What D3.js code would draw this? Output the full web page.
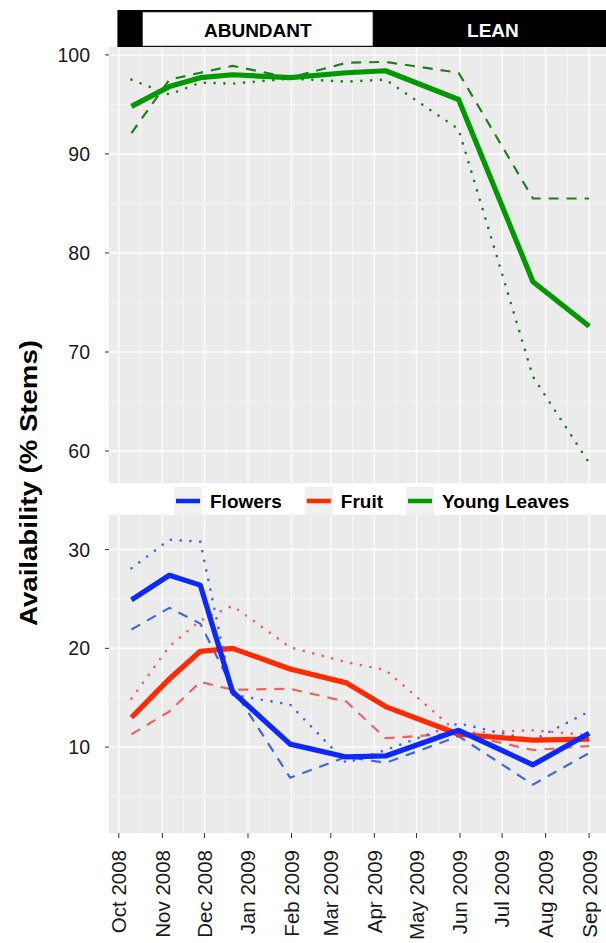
<!DOCTYPE html>
<html>
<head>
<meta charset="utf-8">
<script src="https://cdn.jsdelivr.net/npm/d3@7/dist/d3.min.js"></script>
<style>
  html, body { margin: 0; padding: 0; background: #ffffff; }
  svg { display: block; font-family: "Liberation Sans", Arial, Helvetica, sans-serif; }
</style>
</head>
<body>
<svg id="chart" width="606" height="943"></svg>
<script>
// ---------------- DATA ----------------
const sampleDates = ["2008-10-10","2008-11-06","2008-11-28","2008-12-21","2009-01-31",
                     "2009-03-12","2009-04-09","2009-05-31","2009-07-23","2009-09-01"];

const youngLeavesMean   = [94.8, 96.8, 97.7, 98.0, 97.7, 98.2, 98.4, 95.5, 77.1, 72.6];
const youngLeavesDashed = [92.1, 97.5, 98.2, 98.9, 97.7, 99.2, 99.3, 98.2, 85.5, 85.5];
const youngLeavesDotted = [97.5, 96.0, 97.2, 97.1, 97.6, 97.3, 97.5, 92.5, 67.5, 58.8];

const flowersMean   = [24.9, 27.4, 26.4, 15.6, 10.3, 9.0, 9.1, 11.7, 8.2, 11.4];
const flowersDashed = [21.9, 24.1, 22.5, 16.0, 6.9, 9.0, 8.4, 11.1, 6.2, 9.4];
const flowersDotted = [28.1, 31.0, 30.8, 15.3, 14.3, 8.4, 9.7, 12.4, 10.7, 13.6];

const fruitMean   = [13.0, 16.9, 19.7, 20.0, 17.9, 16.5, 14.1, 11.3, 10.7, 10.8];
const fruitDashed = [11.3, 13.6, 16.6, 15.8, 15.9, 14.6, 10.9, 11.4, 9.7, 10.1];
const fruitDotted = [14.9, 20.2, 22.8, 24.3, 20.1, 18.6, 17.8, 11.4, 11.7, 11.2];

const monthTicks = ["2008-10-01","2008-11-01","2008-12-01","2009-01-01","2009-02-01","2009-03-01",
                    "2009-04-01","2009-05-01","2009-06-01","2009-07-01","2009-08-01","2009-09-01"];
const monthLabels = ["Oct 2008","Nov 2008","Dec 2008","Jan 2009","Feb 2009","Mar 2009",
                     "Apr 2009","May 2009","Jun 2009","Jul 2009","Aug 2009","Sep 2009"];

const topTicks = [60, 70, 80, 90, 100];
const topMinor = [65, 75, 85, 95];
const bottomTicks = [10, 20, 30];
const bottomMinor = [5, 15, 25];

const seasonNames  = ["ABUNDANT", "LEAN"];
const seasonStarts = ["2008-10-18", "2009-03-31"];
const seasonEnds   = ["2009-03-31", "2009-09-18"];
const stripStart   = "2008-09-30";

const legendNames  = ["Flowers", "Fruit", "Young Leaves"];
const legendColors = ["#0a28ff", "#ff2a00", "#009a00"];

const yTitle = "Availability (% Stems)";

// ---------------- SETUP ----------------
const parse = s => { const [y,m,d] = s.split("-").map(Number); return new Date(Date.UTC(y, m-1, d)); };
const dates = sampleDates.map(parse);

const svg = d3.select("#chart");
const W = 606;

const x = d3.scaleUtc()
  .domain([parse("2008-09-24"), parse("2009-09-18")])
  .range([109, 613]);

const yTop = d3.scaleLinear().domain([56.77, 100.8]).range([483, 47]);
const yBot = d3.scaleLinear().domain([1.3, 33.5]).range([833, 515]);

const panelBg = "#ebebeb";
const tickColor = "#333333";
const textColor = "#1a1a1a";

const majorDates = monthTicks.map(parse);
// minor grid halfway between majors (and beyond edges)
const minorDates = [];
for (let i = 0; i < majorDates.length - 1; i++) {
  minorDates.push(new Date((majorDates[i].getTime() + majorDates[i+1].getTime()) / 2));
}
{
  const step = majorDates[1] - majorDates[0];
  minorDates.push(new Date(majorDates[0].getTime() - step/2));
  minorDates.push(new Date(majorDates[majorDates.length-1].getTime() + step/2));
}

function drawPanel(y, majors, minors) {
  const [y0, y1] = [y.range()[1], y.range()[0]];
  const [x0, x1] = x.range();
  const g = svg.append("g");
  g.append("rect").attr("x", x0).attr("y", y0).attr("width", x1 - x0).attr("height", y1 - y0)
    .attr("fill", panelBg);
  const clipId = "clip" + Math.round(y0);
  svg.append("clipPath").attr("id", clipId).append("rect")
    .attr("x", x0).attr("y", y0).attr("width", x1 - x0).attr("height", y1 - y0);
  const gg = g.append("g").attr("clip-path", `url(#${clipId})`);
  gg.selectAll(".hmin").data(minors).join("line")
    .attr("x1", x0).attr("x2", x1).attr("y1", d => y(d)).attr("y2", d => y(d))
    .attr("stroke", "#fafafa").attr("stroke-width", 0.7);
  gg.selectAll(".vmin").data(minorDates).join("line")
    .attr("x1", d => x(d)).attr("x2", d => x(d)).attr("y1", y0).attr("y2", y1)
    .attr("stroke", "#fafafa").attr("stroke-width", 0.7);
  gg.selectAll(".hmaj").data(majors).join("line")
    .attr("x1", x0).attr("x2", x1).attr("y1", d => y(d)).attr("y2", d => y(d))
    .attr("stroke", "#ffffff").attr("stroke-width", 1.4);
  gg.selectAll(".vmaj").data(majorDates).join("line")
    .attr("x1", d => x(d)).attr("x2", d => x(d)).attr("y1", y0).attr("y2", y1)
    .attr("stroke", "#ffffff").attr("stroke-width", 1.4);
  // y axis ticks + labels
  g.selectAll(".yt").data(majors).join("line")
    .attr("x1", x0 - 4).attr("x2", x0).attr("y1", d => y(d)).attr("y2", d => y(d))
    .attr("stroke", tickColor).attr("stroke-width", 1);
  g.selectAll(".yl").data(majors).join("text")
    .attr("x", x0 - 19).attr("y", d => y(d)).attr("dy", "0.36em")
    .attr("text-anchor", "end").attr("font-size", 19.5).attr("fill", textColor)
    .text(d => d);
  return gg;
}

const gTop = drawPanel(yTop, topTicks, topMinor);
const gBot = drawPanel(yBot, bottomTicks, bottomMinor);

// ---------------- SEASON STRIP ----------------
svg.append("rect")
  .attr("x", x(parse(stripStart))).attr("y", 10)
  .attr("width", W - x(parse(stripStart)) + 10).attr("height", 37)
  .attr("fill", "#000000");
seasonNames.forEach((name, i) => {
  const xs = x(parse(seasonStarts[i])), xe = x(parse(seasonEnds[i]));
  if (i === 0) {
    svg.append("rect").attr("x", xs).attr("y", 12).attr("width", xe - xs).attr("height", 34)
      .attr("fill", "#ffffff").attr("stroke", "#444").attr("stroke-width", 0.6);
  }
  svg.append("text")
    .attr("x", (xs + xe) / 2).attr("y", 37)
    .attr("text-anchor", "middle").attr("font-size", 19).attr("font-weight", "bold")
    .attr("fill", i === 0 ? "#000000" : "#ffffff")
    .text(name);
});

// ---------------- LINES ----------------
const mk = (y) => d3.line().x((d, i) => x(dates[i])).y(d => y(d));

function addLine(g, y, values, color, style) {
  const p = g.append("path").datum(values)
    .attr("d", mk(y))
    .attr("fill", "none")
    .attr("stroke", color)
    .attr("stroke-linejoin", "round");
  if (style === "solid") {
    p.attr("stroke-width", 5.2).attr("stroke-linecap", "butt");
  } else if (style === "dashed") {
    p.attr("stroke-width", 2.2).attr("stroke-dasharray", "10,8").attr("stroke-linecap", "butt");
  } else {
    p.attr("stroke-width", 2.7).attr("stroke-dasharray", "0,9.8").attr("stroke-linecap", "round");
  }
}

const greenThin = "#1f7f1f";
const blueThin = "#4266e6";
const redThin = "#ef6262";

addLine(gTop, yTop, youngLeavesDashed, greenThin, "dashed");
addLine(gTop, yTop, youngLeavesDotted, greenThin, "dotted");
addLine(gTop, yTop, youngLeavesMean, legendColors[2], "solid");

addLine(gBot, yBot, fruitDashed, redThin, "dashed");
addLine(gBot, yBot, fruitDotted, redThin, "dotted");
addLine(gBot, yBot, flowersDashed, blueThin, "dashed");
addLine(gBot, yBot, flowersDotted, blueThin, "dotted");
addLine(gBot, yBot, fruitMean, legendColors[1], "solid");
addLine(gBot, yBot, flowersMean, legendColors[0], "solid");

// ---------------- X AXIS ----------------
const xAxisG = svg.append("g");
xAxisG.selectAll(".xt").data(majorDates).join("line")
  .attr("x1", d => x(d)).attr("x2", d => x(d)).attr("y1", 833).attr("y2", 838)
  .attr("stroke", tickColor).attr("stroke-width", 1);
xAxisG.selectAll(".xl").data(majorDates).join("text")
  .attr("transform", d => `translate(${x(d)},850) rotate(-90)`)
  .attr("dy", "0.36em")
  .attr("text-anchor", "end").attr("font-size", 20.5).attr("fill", textColor)
  .text((d, i) => monthLabels[i]);

// ---------------- Y TITLE ----------------
svg.append("text")
  .attr("transform", "translate(37,483) rotate(-90)")
  .attr("text-anchor", "middle")
  .attr("font-size", 24).attr("font-weight", "bold").attr("fill", "#000")
  .attr("textLength", 286).attr("lengthAdjust", "spacingAndGlyphs")
  .text(yTitle);

// ---------------- LEGEND ----------------
const lg = svg.append("g");
let lx = 174;
legendNames.forEach((name, i) => {
  lg.append("rect").attr("x", lx).attr("y", 487).attr("width", 28).attr("height", 28)
    .attr("fill", "#f0f0f0");
  lg.append("line").attr("x1", lx + 2).attr("x2", lx + 26).attr("y1", 501).attr("y2", 501)
    .attr("stroke", legendColors[i]).attr("stroke-width", 4.5);
  const t = lg.append("text").attr("x", lx + 36).attr("y", 508)
    .attr("font-size", 19).attr("font-weight", "bold").attr("fill", "#000")
    .text(name);
  const w = t.node().getComputedTextLength();
  lx = lx + 36 + w + 23;
});
</script>
</body>
</html>
